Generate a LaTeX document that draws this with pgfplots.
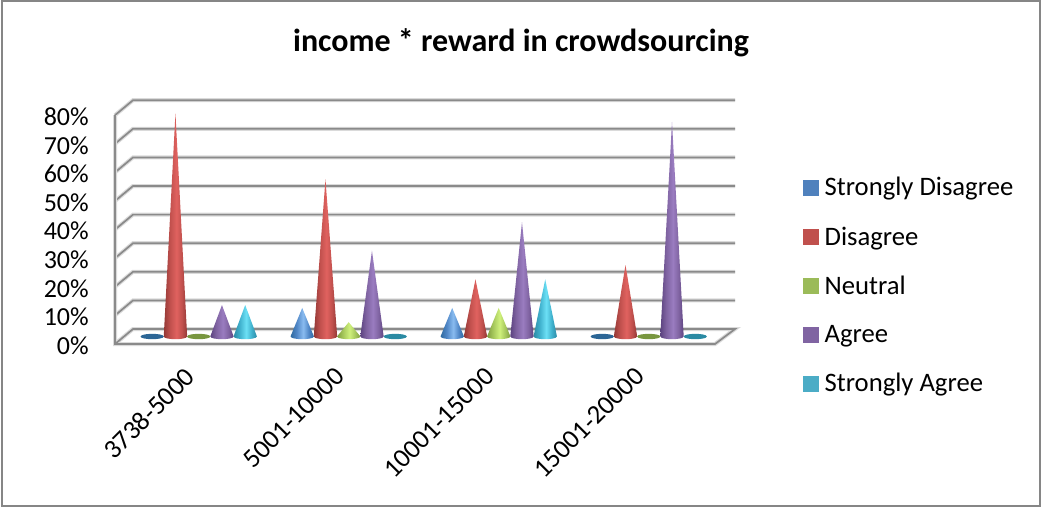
\documentclass[border=0pt]{standalone}
\usepackage{fontspec}
\setmainfont{Carlito}
\usepackage{pgfplots}
\usepackage{pgfplotstable}
\pgfplotsset{compat=1.18}

% one drawing unit of the chart
\newlength{\px}\setlength{\px}{0.75pt}

\definecolor{framegray}{HTML}{868686}
\definecolor{wallgray}{HTML}{8A8A8A}
\definecolor{wallsoft}{HTML}{DADADA}
\definecolor{sdisagree}{HTML}{4F81BD}
\definecolor{disagree}{HTML}{C0504D}
\definecolor{neutral}{HTML}{9BBB59}
\definecolor{agree}{HTML}{8064A2}
\definecolor{sagree}{HTML}{4BACC6}
\definecolor{bluedisc}{HTML}{2B6595}
\definecolor{greendisc}{HTML}{78963F}
\definecolor{tealdisc}{HTML}{2A8AA3}

% horizontal shadings that give the cones their round look
\newcommand{\coneshading}[4]{%
  \definecolor{#1e}{HTML}{#2}\definecolor{#1m}{HTML}{#3}\definecolor{#1l}{HTML}{#4}%
  \pgfdeclarehorizontalshading{#1}{100bp}{color(0bp)=(#1e);color(25bp)=(#1e);color(38bp)=(#1m);color(52bp)=(#1l);color(64bp)=(#1m);color(75bp)=(#1e);color(100bp)=(#1e)}}
\coneshading{coneblue}{2F6AA0}{4F86C6}{8ABCF0}
\coneshading{conered}{933835}{C0504D}{E0625F}
\coneshading{conegreen}{7F9C3F}{A6C85C}{CFF07C}
\coneshading{conepurple}{5C4380}{8064A2}{9A7CC0}
\coneshading{coneteal}{2D8BA6}{3FB0CC}{6CE0F5}

% outline of a cone: elliptical base (u, e) and apex (a = 1)
\pgfplotstableread{
u e a
-1 0 0
-0.9 -0.41 0
-0.7 -0.67 0
-0.4 -0.86 0
0 -0.94 0
0.4 -0.86 0
0.7 -0.67 0
0.9 -0.41 0
1 0 0
0 0 1
}\coneprofile

% outline of a zero-height cone: only its base disc
\pgfplotstableread{
u e
-1 0
-0.9 -0.41
-0.7 -0.67
-0.4 -0.86
0 -0.94
0.4 -0.86
0.7 -0.67
0.9 -0.41
1 0
0.9 0.41
0.7 0.67
0.4 0.86
0 0.94
-0.4 0.86
-0.7 0.67
-0.9 0.41
}\discprofile

% \cone{group}{series slot}{value}{shading}
\newcommand{\cone}[4]{%
  \addplot[draw=none, shading=#4, forget plot] table[
    x expr={#1+(#2-2)*0.155+\thisrow{u}*0.078},
    y expr={\thisrow{e}+\thisrow{a}*#3}] {\coneprofile};}
% \disc{group}{series slot}{colour}
\newcommand{\disc}[3]{%
  \addplot[draw=none, fill=#3, forget plot] table[
    x expr={#1+(#2-2)*0.155+\thisrow{u}*0.078},
    y expr={\thisrow{e}}] {\discprofile};}

% one level of the wall grid, side wall and back wall, with its soft edge
\newcommand{\level}[2]{%
  \addplot[wallsoft, line width=4\px, forget plot] coordinates {(-0.558,#1) (-0.438,#2) (3.575,#2)};
  \addplot[wallgray, line width=1.7\px, forget plot] coordinates {(-0.558,#1) (-0.438,#2) (3.575,#2)};}

\newcommand{\swatch}[1]{\addlegendimage{legend image code/.code={\fill[#1] (0,-7.5\px) rectangle (15\px,7.5\px);}}}

\begin{document}
\begin{tikzpicture}[x=\px,y=\px]
\path[use as bounding box] (0,0) rectangle (1041,508);
\draw[framegray, line width=1.6\px] (2,2) rectangle (1040,507);
\begin{axis}[
  at={(115\px,164\px)}, anchor=south west,
  scale only axis, width=620\px, height=244\px,
  xmin=-0.558, xmax=3.575, ymin=-2.62, ymax=82.69,
  clip=false,
  axis line style={draw=none},
  major tick length=0pt,
  xtick={0,1,2,3},
  xticklabels={3738-5000,5001-10000,10001-15000,15001-20000},
  xticklabel style={rotate=45, anchor=north east, inner sep=0pt, yshift=-4.3\px, xshift=-26\px, font=\fontsize{20}{22}\selectfont},
  ytick={-2.62,7.38,17.38,27.38,37.38,47.38,57.38,67.38,77.38},
  yticklabels={0\%,10\%,20\%,30\%,40\%,50\%,60\%,70\%,80\%},
  yticklabel style={anchor=east, inner sep=0pt, xshift=-26\px, yshift=-1.5\px, font=\fontsize{19.5}{22}\selectfont},
  tick label style={text=black},
  title={\textbf{income * reward in crowdsourcing}},
  title style={at={(0.655,1)}, anchor=center, yshift=49\px, font=\fontsize{24}{27}\selectfont, inner sep=0pt},
  legend style={at={(1.11,0.695)}, anchor=north west, draw=none, fill=none,
    font=\fontsize{20}{22}\selectfont, row sep=23.5\px, inner sep=0pt,
    /tikz/every odd column/.style={column sep=3\px}},
  legend cell align=left,
]
\swatch{sdisagree}\addlegendentry{Strongly Disagree}
\swatch{disagree}\addlegendentry{Disagree}
\swatch{neutral}\addlegendentry{Neutral}
\swatch{agree}\addlegendentry{Agree}
\swatch{sagree}\addlegendentry{Strongly Agree}

% wall grid, from 10% up to 80%, with the depth offset of the side wall
\level{7.38}{12.62}\level{17.38}{22.62}\level{27.38}{32.62}\level{37.38}{42.62}
\level{47.38}{52.62}\level{57.38}{62.62}\level{67.38}{72.62}\level{77.38}{82.62}
% floor and front edge of the side wall
\addplot[wallsoft, line width=4\px, forget plot] coordinates {(-0.558,77.38) (-0.558,-2.62) (3.442,-2.62) (3.575,2.62) (-0.438,2.62) (-0.558,-2.62)};
\addplot[wallgray, line width=1.7\px, forget plot] coordinates {(-0.558,77.38) (-0.558,-2.62) (3.442,-2.62) (3.575,2.62) (-0.438,2.62) (-0.558,-2.62)};

% 3738-5000
\disc{0}{0}{bluedisc}
\cone{0}{1}{78}{conered}
\disc{0}{2}{greendisc}
\cone{0}{3}{11}{conepurple}
\cone{0}{4}{11}{coneteal}
% 5001-10000
\cone{1}{0}{10}{coneblue}
\cone{1}{1}{55}{conered}
\cone{1}{2}{5}{conegreen}
\cone{1}{3}{30}{conepurple}
\disc{1}{4}{tealdisc}
% 10001-15000
\cone{2}{0}{10}{coneblue}
\cone{2}{1}{20}{conered}
\cone{2}{2}{10}{conegreen}
\cone{2}{3}{40}{conepurple}
\cone{2}{4}{20}{coneteal}
% 15001-20000
\disc{3}{0}{bluedisc}
\cone{3}{1}{25}{conered}
\disc{3}{2}{greendisc}
\cone{3}{3}{75}{conepurple}
\disc{3}{4}{tealdisc}
\end{axis}
\end{tikzpicture}
\end{document}
